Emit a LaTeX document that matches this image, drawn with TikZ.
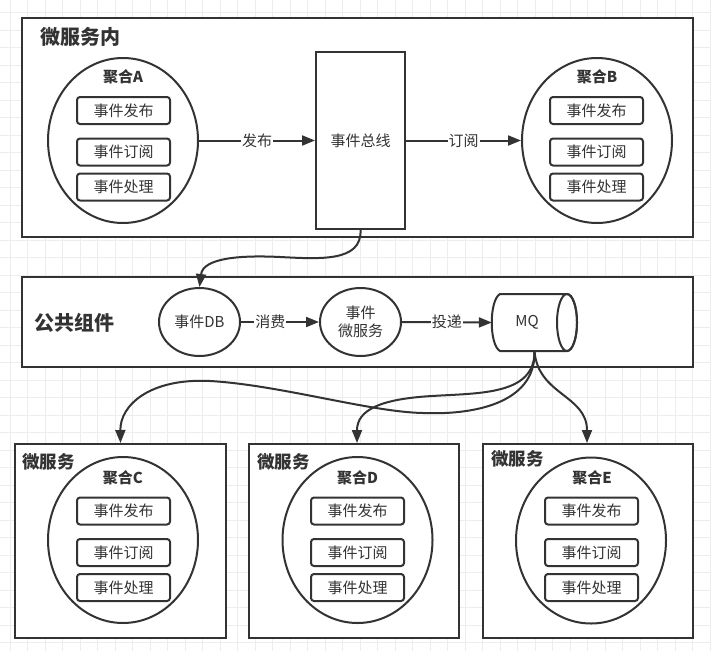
\documentclass[tikz,border=0pt]{standalone}
\usepackage{fontspec}
\setmainfont{Noto Sans CJK SC}
\usetikzlibrary{arrows.meta,shapes.geometric}
\definecolor{ink}{HTML}{333333}
\definecolor{gridc}{HTML}{EDEDED}
\begin{document}
\begin{tikzpicture}[x=1pt,y=-1pt,
  every node/.style={text=ink, font=\fontsize{15}{18.4}\selectfont},
  gridline/.style={draw=gridc, line width=1pt},
  frame/.style={draw=ink, line width=2pt, fill=white, rectangle, inner sep=0pt},
  agg/.style={draw=ink, line width=2pt, fill=white, ellipse, inner sep=0pt, minimum width=150pt, minimum height=165pt},
  aggtitle/.style={font=\bfseries\fontsize{15}{18}\selectfont, inner sep=0pt},
  op/.style={draw=ink, line width=2pt, fill=white, rounded corners=3pt, minimum width=93pt, minimum height=27pt, inner sep=0pt},
  bigtitle/.style={font=\bfseries\fontsize{20}{24}\selectfont, anchor=west, inner sep=0pt},
  svctitle/.style={font=\bfseries\fontsize{17.5}{21}\selectfont, anchor=west, inner sep=0pt},
  bubble/.style={draw=ink, line width=2pt, fill=white, ellipse, inner sep=0pt, minimum width=81pt, minimum height=68pt, align=center},
  conn/.style={draw=ink, line width=2pt, -{Triangle[length=13pt,width=10pt]}},
  lbl/.style={fill=white, inner sep=1pt}
]
\fill[white] (0,0) rectangle (711,651);
\useasboundingbox (0,0) rectangle (711,651);
% background grid
\foreach \i in {0,...,40} {\draw[gridline] ({10+17.5*\i},0) -- ({10+17.5*\i},651);}
\foreach \j in {0,...,36} {\draw[gridline] (0,{12.5+17.5*\j}) -- (711,{12.5+17.5*\j});}

% ---------- top: 微服务内 ----------
\node[frame, minimum width=671pt, minimum height=219pt] (top) at (357.5,127.5) {};
\node[bigtitle] (toptitle) at (40,37) {微服务内};

\node[agg] (aggA) at (123,140.5) {};
\node[aggtitle] (aggAt) at (123,77) {聚合A};
\node[op] (a1) at (123.5,110.5) {事件发布};
\node[op] (a2) at (123.5,152) {事件订阅};
\node[op] (a3) at (123.5,187) {事件处理};

\node[frame, minimum width=89pt, minimum height=177pt] (bus) at (360.5,140.5) {事件总线};

\node[agg] (aggB) at (597,140.5) {};
\node[aggtitle] (aggBt) at (597,77) {聚合B};
\node[op] (b1) at (596.5,110.5) {事件发布};
\node[op] (b2) at (596.5,152) {事件订阅};
\node[op] (b3) at (596.5,187) {事件处理};

\draw[conn] (aggA.east) -- node[lbl] {发布} (bus.west);
\draw[conn] (bus.east) -- node[lbl] {订阅} (aggB.west);

% ---------- middle: 公共组件 ----------
\node[frame, minimum width=671pt, minimum height=90pt] (mid) at (357.5,322) {};
\node[bigtitle] (midtitle) at (34,323) {公共组件};

\node[bubble] (db) at (199.5,322) {事件DB};
\node[bubble] (ems) at (360.5,322) {事件\\微服务};

\node[minimum width=85pt, minimum height=57pt, inner sep=0pt] (mq) at (534.5,322.5) {};
\filldraw[fill=white, draw=ink, line width=2pt]
  (567,294) -- (500,294) .. controls (489,300) and (489,345) .. (500,351) -- (567,351)
  .. controls (572.5,351) and (577,338.3) .. (577,322.5)
  .. controls (577,306.7) and (572.5,294) .. (567,294) -- cycle;
\draw[draw=ink, line width=2pt] (567,322.5) ellipse [x radius=10pt, y radius=28.5pt];
\node (mqlabel) at (527,322) {MQ};

\draw[conn] (bus.south) .. controls (362,262) and (320,259) .. (280,257)
  .. controls (240,255) and (203,258) .. (db.north);
\draw[conn] (db.east) -- node[lbl, pos=0.375] {消费} (ems.west);
\draw[conn] (ems.east) -- node[lbl] {投递} (mq.west);

% ---------- bottom: 微服务 x3 ----------
\node[frame, minimum width=211pt, minimum height=194pt] (boxC) at (120.5,541) {};
\node[svctitle] (titleC) at (22,462) {微服务};
\node[agg, minimum height=166pt] (aggC) at (123,540) {};
\node[aggtitle] (aggCt) at (123,478) {聚合C};
\node[op] (c1) at (123.5,511) {事件发布};
\node[op] (c2) at (123.5,552.5) {事件订阅};
\node[op] (c3) at (123.5,587.5) {事件处理};

\node[frame, minimum width=210pt, minimum height=194pt] (boxD) at (354,541) {};
\node[svctitle] (titleD) at (257,462) {微服务};
\node[agg, minimum height=166pt] (aggD) at (357.5,540) {};
\node[aggtitle] (aggDt) at (357.5,478) {聚合D};
\node[op] (d1) at (357.5,511) {事件发布};
\node[op] (d2) at (357.5,552.5) {事件订阅};
\node[op] (d3) at (357.5,587.5) {事件处理};

\node[frame, minimum width=210pt, minimum height=194pt] (boxE) at (588,541) {};
\node[svctitle] (titleE) at (491,459) {微服务};
\node[agg, minimum height=166pt] (aggE) at (591,540.5) {};
\node[aggtitle] (aggEt) at (592,478) {聚合E};
\node[op] (e1) at (591.5,511) {事件发布};
\node[op] (e2) at (591.5,552.5) {事件订阅};
\node[op] (e3) at (591.5,587.5) {事件处理};

% ---------- MQ fan-out ----------
\draw[conn] (mq.south) .. controls (536,405) and (470,415) .. (423,413)
  .. controls (370,412) and (280,385) .. (210,381)
  .. controls (150,378) and (120,405) .. (boxC.north);
\draw[conn] (mq.south) .. controls (535,395) and (480,393) .. (432,396)
  .. controls (380,399) and (357,410) .. ([xshift=3pt]boxD.north);
\draw[conn] (mq.south) .. controls (538,395) and (587,395) .. ([xshift=-1pt]boxE.north);
\end{tikzpicture}
\end{document}
